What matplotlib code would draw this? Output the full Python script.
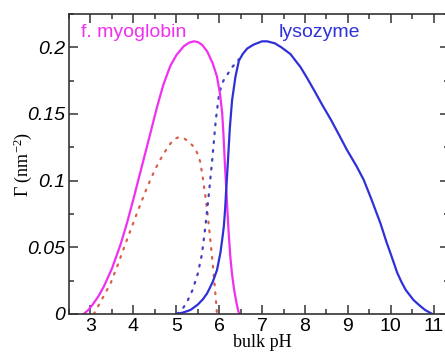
import matplotlib
matplotlib.use('Agg')
import matplotlib.pyplot as plt
from matplotlib.ticker import MultipleLocator

plt.rcParams['mathtext.fontset'] = 'custom'
plt.rcParams['mathtext.rm'] = 'Liberation Serif'
plt.rcParams['mathtext.it'] = 'Liberation Serif:italic'

# f. myoglobin, solid
myo_x = [2.84, 2.95, 3.05, 3.18, 3.31, 3.5, 3.7, 3.85, 4.0, 4.12, 4.24, 4.4, 4.55, 4.7,
         4.86, 5.0, 5.17, 5.3, 5.41, 5.5, 5.6, 5.72, 5.85, 5.95, 6.02, 6.07, 6.1, 6.13,
         6.17, 6.22, 6.26, 6.3, 6.35, 6.4, 6.44, 6.47]
myo_y = [0.0, 0.003, 0.007, 0.013, 0.0205, 0.034, 0.052, 0.068, 0.086, 0.101, 0.116,
         0.136, 0.155, 0.172, 0.186, 0.194, 0.2007, 0.2035, 0.2045, 0.204, 0.202, 0.197,
         0.188, 0.178, 0.165, 0.151, 0.135, 0.115, 0.091, 0.062, 0.043, 0.03, 0.018,
         0.009, 0.003, 0.0]

# f. myoglobin, dotted
myo2_x = [3.08, 3.25, 3.47, 3.65, 3.85, 4.1, 4.32, 4.5, 4.63, 4.8, 4.94, 5.05, 5.17, 5.3,
          5.42, 5.5, 5.56, 5.62, 5.68, 5.72, 5.78, 5.84, 5.9, 5.95]
myo2_y = [0.0, 0.01, 0.023, 0.038, 0.0556, 0.077, 0.095, 0.108, 0.116, 0.125, 0.131,
          0.1325, 0.132, 0.129, 0.125, 0.12, 0.114, 0.102, 0.088, 0.078, 0.06, 0.041,
          0.02, 0.0]

# lysozyme, solid
lys_x = [5.0, 5.15, 5.33, 5.5, 5.62, 5.72, 5.85, 5.95, 6.03, 6.08, 6.11, 6.14, 6.16, 6.2,
         6.25, 6.3, 6.38, 6.46, 6.55, 6.65, 6.8, 7.0, 7.12, 7.3, 7.45, 7.66, 7.9, 8.05,
         8.21, 8.4, 8.6, 8.8, 8.98, 9.2, 9.37, 9.55, 9.76, 9.9, 10.0, 10.15, 10.25, 10.35,
         10.53, 10.65, 10.8, 10.97]
lys_y = [0.0, 0.001, 0.003, 0.007, 0.011, 0.0155, 0.024, 0.033, 0.046, 0.058, 0.066,
         0.079, 0.091, 0.112, 0.14, 0.16, 0.178, 0.19, 0.195, 0.199, 0.202, 0.2045,
         0.2045, 0.203, 0.2, 0.195, 0.185, 0.177, 0.168, 0.157, 0.146, 0.134, 0.123,
         0.111, 0.1006, 0.086, 0.068, 0.054, 0.045, 0.031, 0.024, 0.018, 0.0105, 0.007,
         0.003, 0.0]

# lysozyme, dotted
lys2_x = [5.02, 5.15, 5.25, 5.38, 5.5, 5.6, 5.68, 5.76, 5.84, 5.92, 5.99, 6.05, 6.1,
          6.18, 6.3, 6.46]
lys2_y = [0.0, 0.004, 0.009, 0.018, 0.03, 0.045, 0.066, 0.09, 0.116, 0.145, 0.163,
          0.171, 0.175, 0.179, 0.185, 0.191]

x_ticks = [3, 4, 5, 6, 7, 8, 9, 10, 11]
y_ticks = [0, 0.05, 0.1, 0.15, 0.2]
y_labels = ['0', '0.05', '0.1', '0.15', '0.2']

magenta = '#f030f0'
blue = '#3030d8'
red_dot = '#d8604a'
blue_dot = '#4040c0'

xmin, xmax = 2.5, 11.35
fig = plt.figure(figsize=(4.45, 3.53), dpi=100)
ax = fig.add_axes([69 / 445, 39 / 353, (xmax - xmin) * 42.9 / 445, 300 / 353])

ax.plot(myo2_x, myo2_y, color=red_dot, lw=1.6, ls=(0, (0.8, 3.2)), dash_capstyle='round')
ax.plot(lys2_x, lys2_y, color=blue_dot, lw=1.6, ls=(0, (0.8, 3.2)), dash_capstyle='round')
ax.plot(myo_x, myo_y, color=magenta, lw=1.6)
ax.plot(lys_x, lys_y, color=blue, lw=1.6)

ax.text(2.77, 0.211, 'f. myoglobin', color=magenta, fontsize=14,
        family='Liberation Sans', va='center', ha='left')
ax.text(7.38, 0.211, 'lysozyme', color=blue, fontsize=14,
        family='Liberation Sans', va='center', ha='left')

ax.set_xlim(xmin, xmax)
ax.set_ylim(0, 0.225)
ax.set_xticks(x_ticks)
ax.set_xticklabels([str(t) for t in x_ticks], family='Liberation Sans', fontsize=14)
ax.set_yticks(y_ticks)
ax.set_yticklabels(y_labels, family='Liberation Sans', style='italic', fontsize=14)
ax.xaxis.set_minor_locator(MultipleLocator(0.5))
ax.yaxis.set_minor_locator(MultipleLocator(0.025))
ax.tick_params(which='both', direction='in', top=True, right=True, color='#333333', width=1.1)
ax.tick_params(which='major', length=6.5)
ax.tick_params(which='minor', length=3.5)
ax.tick_params(axis='x', pad=3)
ax.tick_params(axis='y', pad=3)
for s in ax.spines.values():
    s.set_color('#333333')
    s.set_linewidth(1.2)

ax.set_xlabel('bulk pH', family='Liberation Serif', fontsize=13)
ax.xaxis.set_label_coords((262 - 69) / ((xmax - xmin) * 42.9), -0.068)
ax.set_ylabel(r'$\Gamma$ (nm$^{-2}$)', family='Liberation Serif', fontsize=13)
ax.yaxis.set_label_coords(-(69 - 23) / ((xmax - xmin) * 42.9), 0.5)
ax.yaxis.label.set_va('center')

fig.savefig('out.png', dpi=100)
